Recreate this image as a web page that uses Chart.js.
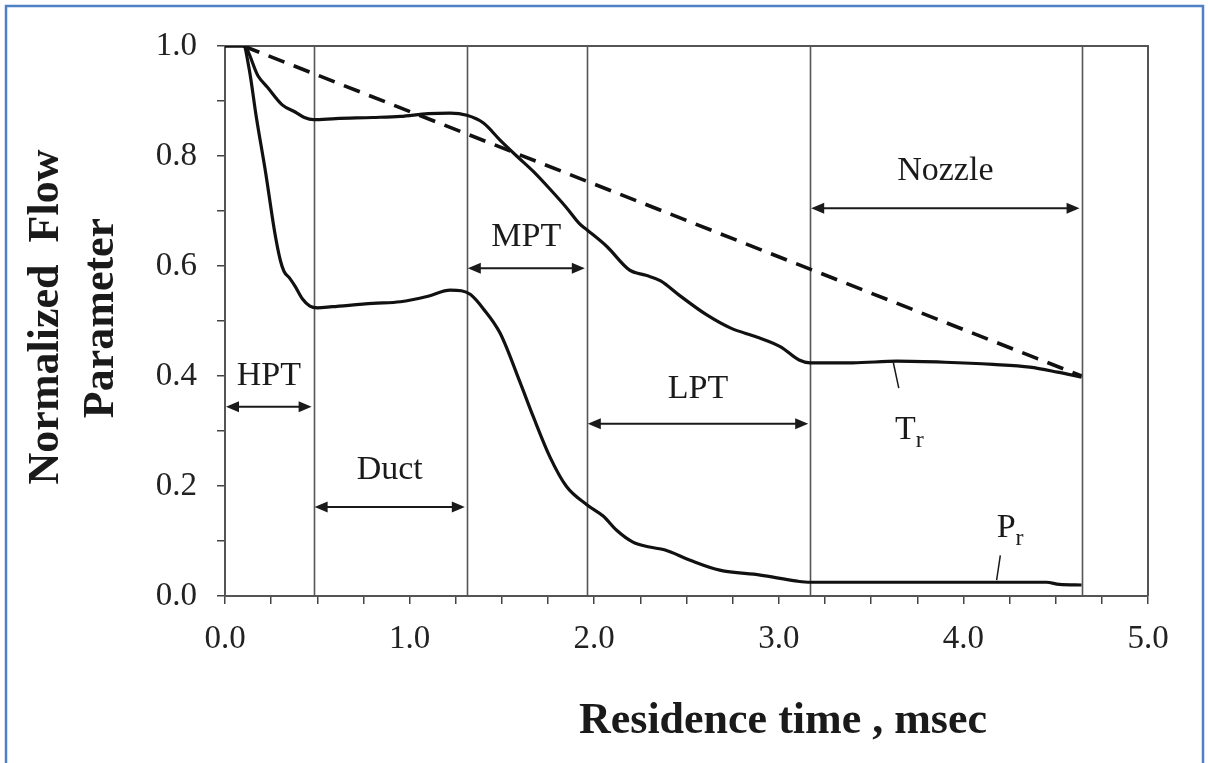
<!DOCTYPE html>
<html>
<head>
<meta charset="utf-8">
<title>Normalized flow parameter vs residence time</title>
<script src="https://cdn.jsdelivr.net/npm/chart.js@4.4.1/dist/chart.umd.min.js"></script>
<style>
  html, body { margin: 0; padding: 0; background: #fff; }
  #wrap { width: 1208px; height: 763px; }
</style>
</head>
<body>
<div id="wrap"><canvas id="flowChart" width="1208" height="763"></canvas></div>
<script>
// Temperature ratio Tr along the engine flow path (time in msec)
const trTime = [0, 0.1, 0.18, 0.23, 0.31, 0.38, 0.43, 0.48, 0.6, 0.8, 0.95, 1.1, 1.22, 1.31, 1.4, 1.49, 1.58, 1.67, 1.76, 1.85, 1.92, 1.96, 2.07, 2.19, 2.28, 2.36, 2.46, 2.61, 2.74, 2.88, 3.01, 3.11, 3.17, 3.4, 3.64, 3.9, 4.16, 4.36, 4.51, 4.64];
const trValue = [1.0, 1.0, 0.945, 0.925, 0.893, 0.88, 0.87, 0.866, 0.868, 0.87, 0.872, 0.877, 0.878, 0.874, 0.86, 0.829, 0.8, 0.772, 0.74, 0.706, 0.677, 0.666, 0.635, 0.593, 0.583, 0.573, 0.547, 0.511, 0.487, 0.471, 0.453, 0.429, 0.424, 0.424, 0.427, 0.425, 0.421, 0.416, 0.407, 0.398];

// Pressure ratio Pr
const prTime = [0, 0.1, 0.13, 0.17, 0.22, 0.27, 0.3, 0.32, 0.35, 0.38, 0.42, 0.46, 0.5, 0.58, 0.8, 0.95, 1.1, 1.22, 1.28, 1.33, 1.4, 1.49, 1.6, 1.67, 1.76, 1.85, 1.96, 2.05, 2.12, 2.21, 2.3, 2.38, 2.52, 2.68, 2.9, 3.1, 3.17, 4.45, 4.52, 4.64];
const prValue = [1.0, 1.0, 0.96, 0.87, 0.77, 0.66, 0.61, 0.59, 0.578, 0.563, 0.54, 0.527, 0.524, 0.526, 0.532, 0.535, 0.545, 0.556, 0.555, 0.548, 0.522, 0.478, 0.387, 0.326, 0.253, 0.199, 0.166, 0.145, 0.12, 0.098, 0.089, 0.084, 0.065, 0.047, 0.038, 0.027, 0.025, 0.025, 0.021, 0.02];

// Straight reference line
const linearTime = [0.1, 4.64];
const linearValue = [1.0, 0.40];

// Engine components and their boundaries in residence time
const sectionNames = ['HPT', 'Duct', 'MPT', 'LPT', 'Nozzle'];
const sectionBounds = [0, 0.48, 1.31, 1.96, 3.17, 4.64];

// Labelled ticks
const xTickLabels = [0, 1, 2, 3, 4, 5];
const yTickLabels = [0, 0.2, 0.4, 0.6, 0.8, 1.0];

// where the component arrows and names sit (y in axis units)
const sectionLayout = {
  arrowY: [0.344, 0.162, 0.596, 0.313, 0.705],
  labelY: [0.40, 0.229, 0.653, 0.376, 0.773]
};

const serif = 'Liberation Serif, "Times New Roman", serif';
const ink = '#1a1a1a';

function toPoints(xs, ys) {
  return xs.map((x, i) => ({ x: x, y: ys[i] }));
}

function arrowHead(ctx, x, y, dir) {
  ctx.beginPath();
  ctx.moveTo(x, y);
  ctx.lineTo(x + dir * 13, y - 5.5);
  ctx.lineTo(x + dir * 13, y + 5.5);
  ctx.closePath();
  ctx.fill();
}

function subscriptLabel(ctx, main, sub, x, y) {
  ctx.font = '34px ' + serif;
  ctx.textAlign = 'left';
  ctx.textBaseline = 'alphabetic';
  ctx.fillText(main, x, y);
  const w = ctx.measureText(main).width;
  ctx.font = '24px ' + serif;
  ctx.fillText(sub, x + w, y + 8);
}

const flowNotes = {
  id: 'flowNotes',
  beforeDraw(chart) {
    const ctx = chart.ctx;
    ctx.save();
    ctx.fillStyle = '#fff';
    ctx.fillRect(0, 0, chart.width, chart.height);
    // page frame
    ctx.strokeStyle = '#4f81c7';
    ctx.lineWidth = 2.5;
    ctx.beginPath();
    ctx.moveTo(6, chart.height + 5);
    ctx.lineTo(6, 6);
    ctx.lineTo(1203, 6);
    ctx.lineTo(1203, chart.height + 5);
    ctx.stroke();
    ctx.restore();
  },
  beforeDatasetsDraw(chart) {
    const ctx = chart.ctx;
    const x = chart.scales.x;
    const area = chart.chartArea;
    ctx.save();
    ctx.strokeStyle = '#555';
    ctx.lineWidth = 1.6;
    sectionBounds.slice(1).forEach(b => {
      const px = Math.round(x.getPixelForValue(b)) + 0.5;
      ctx.beginPath();
      ctx.moveTo(px, area.top);
      ctx.lineTo(px, area.bottom);
      ctx.stroke();
    });
    // top and right edges of the plot box
    ctx.lineWidth = 2;
    ctx.strokeStyle = '#555';
    ctx.beginPath();
    ctx.moveTo(area.left, area.top);
    ctx.lineTo(area.right, area.top);
    ctx.lineTo(area.right, area.bottom);
    ctx.stroke();
    ctx.restore();
  },
  afterDatasetsDraw(chart) {
    const ctx = chart.ctx;
    const xs = chart.scales.x;
    const ys = chart.scales.y;
    ctx.save();
    ctx.fillStyle = ink;
    ctx.strokeStyle = ink;

    // component spans
    sectionNames.forEach((name, i) => {
      const x1 = xs.getPixelForValue(sectionBounds[i]) + 1;
      const x2 = xs.getPixelForValue(sectionBounds[i + 1]) - 2;
      const ay = ys.getPixelForValue(sectionLayout.arrowY[i]);
      ctx.lineWidth = 2;
      ctx.beginPath();
      ctx.moveTo(x1 + 8, ay);
      ctx.lineTo(x2 - 8, ay);
      ctx.stroke();
      arrowHead(ctx, x1, ay, 1);
      arrowHead(ctx, x2, ay, -1);
      ctx.font = '34px ' + serif;
      ctx.textAlign = 'center';
      ctx.textBaseline = 'middle';
      ctx.fillText(name, (x1 + x2) / 2, ys.getPixelForValue(sectionLayout.labelY[i]));
    });

    // curve labels with leader lines
    ctx.lineWidth = 1.5;
    ctx.beginPath();
    ctx.moveTo(xs.getPixelForValue(3.62), ys.getPixelForValue(0.425));
    ctx.lineTo(xs.getPixelForValue(3.65), ys.getPixelForValue(0.378));
    ctx.moveTo(xs.getPixelForValue(4.18), ys.getPixelForValue(0.029));
    ctx.lineTo(xs.getPixelForValue(4.2), ys.getPixelForValue(0.074));
    ctx.stroke();
    subscriptLabel(ctx, 'T', 'r', xs.getPixelForValue(3.63), ys.getPixelForValue(0.285));
    subscriptLabel(ctx, 'P', 'r', xs.getPixelForValue(4.18), ys.getPixelForValue(0.108));

    // axis titles
    ctx.font = 'bold 44px ' + serif;
    ctx.textAlign = 'center';
    ctx.textBaseline = 'middle';
    ctx.fillText('Residence time , msec', 783, 722);
    ctx.save();
    ctx.translate(47, 317);
    ctx.rotate(-Math.PI / 2);
    ctx.fillText('Normalized  Flow', 0, 0);
    ctx.restore();
    ctx.save();
    ctx.translate(102, 318);
    ctx.rotate(-Math.PI / 2);
    ctx.fillText('Parameter', 0, 0);
    ctx.restore();
    ctx.restore();
  }
};

const lineStyle = {
  borderColor: '#111',
  borderWidth: 3.2,
  pointRadius: 0,
  fill: false,
  cubicInterpolationMode: 'monotone'
};

const ctx = document.getElementById('flowChart').getContext('2d');

const flowChart = new Chart(ctx, {
  type: 'scatter',
  data: {
    datasets: [
      Object.assign({ label: 'Tr', data: toPoints(trTime, trValue), showLine: true }, lineStyle),
      Object.assign({ label: 'Pr', data: toPoints(prTime, prValue), showLine: true }, lineStyle),
      Object.assign({ label: 'Linear', data: toPoints(linearTime, linearValue), showLine: true }, lineStyle, { borderDash: [17, 10], borderWidth: 3.6 })
    ]
  },
  options: {
    responsive: false,
    animation: false,
    layout: { padding: { left: 125, top: 46, right: 60, bottom: 97 } },
    plugins: {
      legend: { display: false },
      tooltip: { enabled: false }
    },
    scales: {
      x: {
        type: 'linear',
        min: 0,
        max: 5,
        afterFit: (scale) => { scale.height = 70; },
        ticks: {
          stepSize: 0.25,
          autoSkip: false,
          maxRotation: 0,
          padding: 16,
          color: '#222',
          font: { family: serif, size: 33 },
          callback: (v) => xTickLabels.some(t => Math.abs(t - v) < 1e-6) ? v.toFixed(1) : ''
        },
        grid: { drawOnChartArea: false, tickLength: 8, color: '#444', lineWidth: 1.5 },
        border: { display: true, color: '#555', width: 2 }
      },
      y: {
        type: 'linear',
        min: 0,
        max: 1,
        afterFit: (scale) => { scale.width = 100; },
        ticks: {
          stepSize: 0.1,
          autoSkip: false,
          padding: 20,
          color: '#222',
          font: { family: serif, size: 33 },
          callback: (v) => yTickLabels.some(t => Math.abs(t - v) < 1e-6) ? v.toFixed(1) : ''
        },
        grid: { drawOnChartArea: false, tickLength: 8, color: '#444', lineWidth: 1.5 },
        border: { display: true, color: '#555', width: 2 }
      }
    }
  },
  plugins: [flowNotes]
});
</script>
</body>
</html>
